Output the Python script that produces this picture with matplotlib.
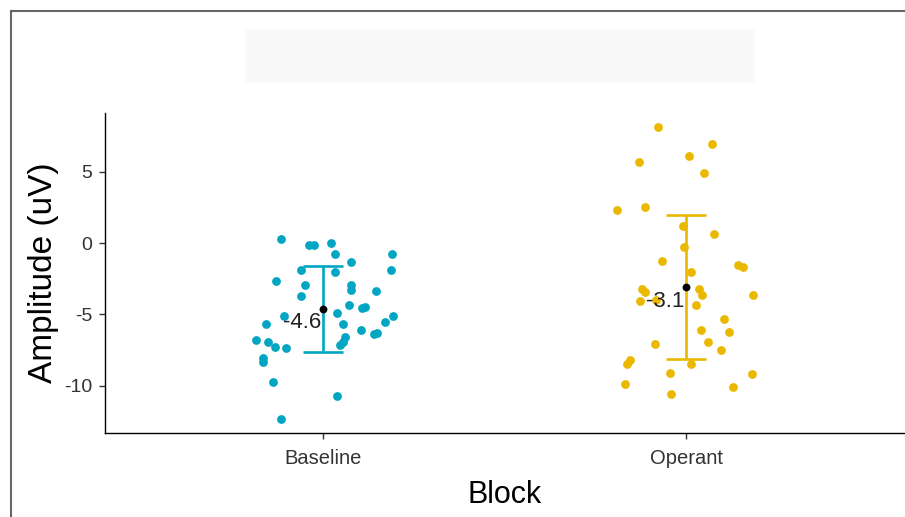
import matplotlib
matplotlib.use("Agg")
import matplotlib.pyplot as plt
from matplotlib.lines import Line2D
from matplotlib.patches import Rectangle

plt.rcParams['font.family'] = ['Liberation Sans', 'DejaVu Sans']

# Categories and group colours
blocks = ["Baseline", "Operant"]
colors = ["#03A6C2", "#EBB800"]

# Individual amplitudes (uV) and their horizontal jitter offsets
baseline_vals = [0.28, -0.14, -0.14, 0.0, -0.77, -0.77, -1.33, -1.89, -2.03, -1.89,
                 -2.66, -2.94, -2.94, -3.29, -3.36, -3.71, -4.34, -4.55, -4.48, -5.12,
                 -5.12, -4.91, -5.54, -5.68, -5.68, -6.10, -6.38, -6.31, -6.80, -6.94,
                 -7.29, -7.36, -6.59, -6.94, -7.15, -8.06, -8.34, -9.74, -10.72, -12.33]
baseline_jit = [-0.115, -0.038, -0.025, 0.022, 0.033, 0.190, 0.077, -0.060, 0.033, 0.187,
                -0.129, -0.049, 0.077, 0.077, 0.146, -0.060, 0.071, 0.107, 0.115, 0.192,
                -0.107, 0.038, 0.170, -0.157, 0.055, 0.104, 0.140, 0.148, -0.184, -0.151,
                -0.132, -0.102, 0.060, 0.055, 0.047, -0.165, -0.165, -0.137, 0.038, -0.115]

operant_vals = [8.13, 6.94, 6.10, 5.68, 4.91, 2.31, 2.52, 1.19, 0.63, -0.28,
                -1.26, -1.54, -1.68, -2.03, -3.22, -3.43, -3.22, -3.64, -3.64, -4.06,
                -3.99, -4.34, -5.33, -6.10, -6.24, -7.08, -6.94, -7.50, -8.20, -8.48,
                -8.48, -9.11, -9.18, -9.88, -10.09, -10.58]
operant_jit = [-0.077, 0.071, 0.008, -0.129, 0.049, -0.190, -0.113, -0.008, 0.077, -0.005,
               -0.066, 0.143, 0.157, 0.014, -0.121, -0.113, 0.036, 0.044, 0.184, -0.126,
               -0.082, 0.027, 0.104, 0.041, 0.118, -0.085, 0.060, 0.096, -0.154, -0.162,
               0.014, -0.044, 0.181, -0.168, 0.129, -0.041]

# Group summaries: mean and standard deviation
means = [-4.6, -3.1]
sds = [3.0, 5.05]

yticks = [5, 0, -5, -10]

fig = plt.figure(figsize=(9.05, 5.17), dpi=100)
ax = fig.add_axes([105 / 905, 1 - 433 / 517, 799 / 905, 320 / 517])

values = [baseline_vals, operant_vals]
jitters = [baseline_jit, operant_jit]
positions = [1, 2]

for pos, vals, jit, col in zip(positions, values, jitters, colors):
    ax.scatter([pos + j for j in jit], vals, s=40, color=col, linewidths=0, zorder=2)

cap = 0.055
for pos, m, sd, col in zip(positions, means, sds, colors):
    ax.vlines(pos, m - sd, m + sd, color=col, lw=1.9, zorder=3)
    ax.hlines([m - sd, m + sd], pos - cap, pos + cap, color=col, lw=1.9, zorder=3)
    ax.scatter([pos], [m], s=32, color="black", linewidths=0, zorder=4)
    ax.annotate(f"{m:.1f}", xy=(pos, m), xytext=(-1, -10), textcoords="offset points",
                ha="right", va="center", fontsize=16, color="#222222", zorder=5)

ax.set_xlim(0.4, 2.6)
ax.set_ylim(-13.31, 9.11)
ax.set_xticks(positions)
ax.set_xticklabels(blocks)
ax.set_yticks(yticks)
ax.set_yticklabels([str(t) for t in yticks])

for side in ("top", "right"):
    ax.spines[side].set_visible(False)
for side in ("left", "bottom"):
    ax.spines[side].set_color("black")
    ax.spines[side].set_linewidth(1.0)

ax.tick_params(axis="x", labelsize=14.5, colors="#333333", length=4, width=1, pad=7.5)
ax.tick_params(axis="y", labelsize=14, colors="#333333", length=4, width=1, pad=5)
ax.tick_params(axis="both", color="#333333")

ax.set_xlabel("Block", fontsize=22, color="black", labelpad=9)
ax.set_ylabel("Amplitude (uV)", fontsize=24, color="black", labelpad=4)

# faint blank band above the plot and the image frame on top/left
fig.patches.append(Rectangle((245 / 905, 1 - 82 / 517), 510 / 905, 52 / 517,
                             transform=fig.transFigure, facecolor="#F9F9F9",
                             edgecolor="none", zorder=0))
fig.lines.append(Line2D([11 / 905, 11 / 905], [0, 1 - 11 / 517], transform=fig.transFigure,
                        color="#666666", lw=1.5))
fig.lines.append(Line2D([11 / 905, 1], [1 - 11 / 517, 1 - 11 / 517], transform=fig.transFigure,
                        color="#666666", lw=1.5))

fig.savefig("out.png", dpi=100)
